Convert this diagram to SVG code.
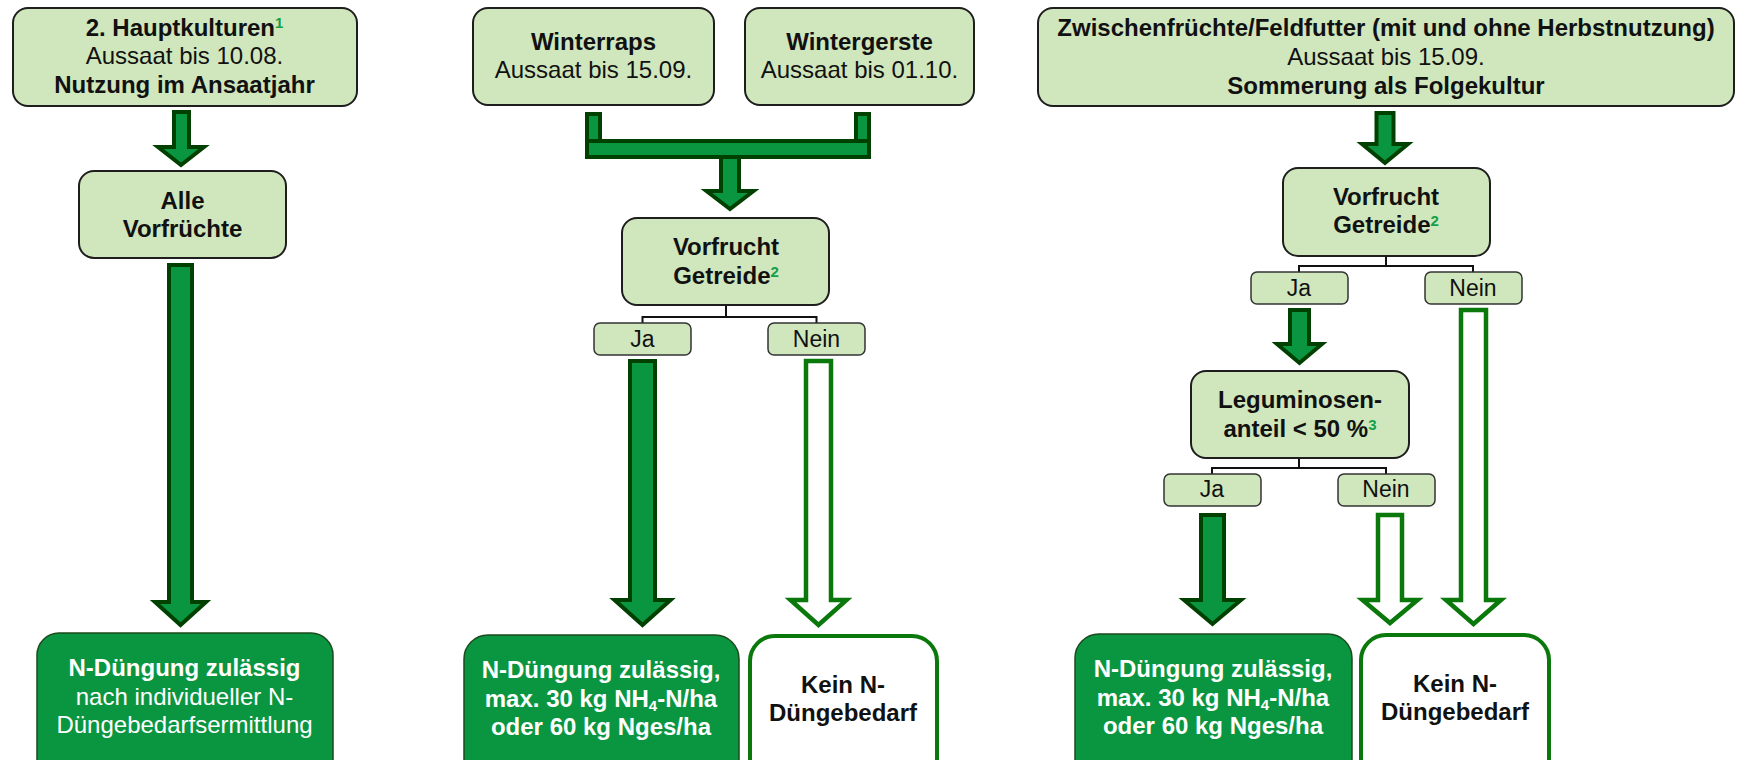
<svg xmlns="http://www.w3.org/2000/svg" width="1738" height="760" viewBox="0 0 1738 760">
<style>
.lb{fill:#d0e6bc;stroke:#1e1e1e;stroke-width:2}
.sb{fill:#d0e6bc;stroke:#333;stroke-width:1.5}
.gb{fill:#0a9640;stroke:#1d4a1d;stroke-width:1.5}
.wb{fill:#fff;stroke:#0a780a;stroke-width:4}
.fa{fill:#0a9640;stroke:#004000;stroke-width:4}
.ha{fill:#fff;stroke:#0a780a;stroke-width:4.5}
.conn{fill:none;stroke:#111;stroke-width:2}
text{font-family:"Liberation Sans",Arial,sans-serif;font-size:24px;fill:#111;text-anchor:middle}
.b{font-weight:bold}
.w{fill:#fff}
.s{font-size:23px}
.sup{font-size:15px;fill:#12a04a;font-weight:bold}
</style>
<rect width="1738" height="760" fill="#fff"/>

<g id="connectors">
  <!-- column 1 -->
  <polygon class="fa" points="174,112 189,112 189,147 204,147 181,165 158,147 174,147"/>
  <polygon class="fa" points="169,265 192,265 192,602 206,602 180.5,625 155,602 169,602"/>
  <!-- column 2 bracket -->
  <rect class="fa" x="587" y="114" width="13" height="27"/>
  <rect class="fa" x="856" y="114" width="13" height="27"/>
  <polygon class="fa" points="721,150 739,150 739,191 753.5,191 730,209 706.5,191 721,191"/>
  <rect class="fa" x="587" y="141" width="282" height="16"/>
  <path class="conn" d="M726,306 V317 M642.5,323 V317 H816.5 V323"/>
  <polygon class="fa" points="630,361 655,361 655,600 670.5,600 642.5,625 614.5,600 630,600"/>
  <polygon class="ha" points="806,361 831,361 831,600 846.5,600 818.5,625 790.5,600 806,600"/>
  <!-- column 3 -->
  <polygon class="fa" points="1376.5,113 1393.5,113 1393.5,144 1408,144 1385,163 1362,144 1376.5,144"/>
  <path class="conn" d="M1386,256 V266 M1299,272 V266 H1473 V272"/>
  <polygon class="fa" points="1290,310 1309,310 1309,344 1322,344 1299.5,363 1277,344 1290,344"/>
  <polygon class="ha" points="1461,310 1486,310 1486,600 1501,600 1473.5,624 1446,600 1461,600"/>
  <path class="conn" d="M1299,458 V468 M1212,474 V468 H1386 V474"/>
  <polygon class="fa" points="1201,515 1224,515 1224,600 1241,600 1212.5,624 1184,600 1201,600"/>
  <polygon class="ha" points="1378,515 1402,515 1402,600 1417.5,600 1390,623 1362.5,600 1378,600"/>
</g>

<g id="n-hauptkulturen">
  <rect class="lb" x="13" y="8" width="344" height="98" rx="15"/>
  <text class="b" x="184.5" y="36">2. Hauptkulturen<tspan class="sup" dy="-8">1</tspan></text>
  <text x="184.5" y="64">Aussaat bis 10.08.</text>
  <text class="b" x="184.5" y="93">Nutzung im Ansaatjahr</text>
</g>
<g id="n-alle">
  <rect class="lb" x="79" y="171" width="207" height="87" rx="15"/>
  <text class="b" x="182.5" y="209">Alle</text>
  <text class="b" x="182.5" y="237">Vorfrüchte</text>
</g>
<g id="n-result1">
  <rect class="gb" x="37" y="633" width="296" height="150" rx="22"/>
  <text class="b w" x="184.5" y="676">N-Düngung zulässig</text>
  <text class="w" x="184.5" y="705">nach individueller N-</text>
  <text class="w" x="184.5" y="733">Düngebedarfsermittlung</text>
</g>

<g id="n-winterraps">
  <rect class="lb" x="473" y="8" width="241" height="97" rx="15"/>
  <text class="b" x="593.5" y="50">Winterraps</text>
  <text x="593.5" y="78">Aussaat bis 15.09.</text>
</g>
<g id="n-wintergerste">
  <rect class="lb" x="745" y="8" width="229" height="97" rx="15"/>
  <text class="b" x="859.5" y="50">Wintergerste</text>
  <text x="859.5" y="78">Aussaat bis 01.10.</text>
</g>
<g id="n-vorfrucht2">
  <rect class="lb" x="622" y="218" width="207" height="87" rx="15"/>
  <text class="b" x="726" y="255">Vorfrucht</text>
  <text class="b" x="726" y="284">Getreide<tspan class="sup" dy="-7">2</tspan></text>
</g>
<g id="n-ja2">
  <rect class="sb" x="594" y="323" width="97" height="32" rx="6"/>
  <text class="s" x="642.5" y="347">Ja</text>
</g>
<g id="n-nein2">
  <rect class="sb" x="768" y="323" width="97" height="32" rx="6"/>
  <text class="s" x="816.5" y="347">Nein</text>
</g>
<g id="n-result2">
  <rect class="gb" x="464" y="635" width="275" height="150" rx="24"/>
  <text class="b w" x="601" y="678">N-Düngung zulässig,</text>
  <text class="b w" x="601" y="707">max. 30 kg NH<tspan font-size="15" dy="4">4</tspan><tspan dy="-4">-N/ha</tspan></text>
  <text class="b w" x="601" y="735">oder 60 kg Nges/ha</text>
</g>
<g id="n-kein2">
  <rect class="wb" x="750" y="636" width="187" height="150" rx="25"/>
  <text class="b" x="843" y="693">Kein N-</text>
  <text class="b" x="843" y="721">Düngebedarf</text>
</g>

<g id="n-zwischenfruechte">
  <rect class="lb" x="1038" y="8" width="696" height="98" rx="15"/>
  <text class="b" x="1386" y="36">Zwischenfrüchte/Feldfutter (mit und ohne Herbstnutzung)</text>
  <text x="1386" y="65">Aussaat bis 15.09.</text>
  <text class="b" x="1386" y="94">Sommerung als Folgekultur</text>
</g>
<g id="n-vorfrucht3">
  <rect class="lb" x="1283" y="168" width="207" height="88" rx="15"/>
  <text class="b" x="1386" y="205">Vorfrucht</text>
  <text class="b" x="1386" y="233">Getreide<tspan class="sup" dy="-7">2</tspan></text>
</g>
<g id="n-ja3">
  <rect class="sb" x="1251" y="272" width="97" height="32" rx="6"/>
  <text class="s" x="1299" y="296">Ja</text>
</g>
<g id="n-nein3">
  <rect class="sb" x="1425" y="272" width="97" height="32" rx="6"/>
  <text class="s" x="1473" y="296">Nein</text>
</g>
<g id="n-leguminosen">
  <rect class="lb" x="1191" y="371" width="218" height="87" rx="15"/>
  <text class="b" x="1300" y="408">Leguminosen-</text>
  <text class="b" x="1300" y="437">anteil &lt; 50 %<tspan class="sup" dy="-7">3</tspan></text>
</g>
<g id="n-ja4">
  <rect class="sb" x="1164" y="474" width="97" height="32" rx="6"/>
  <text class="s" x="1212" y="497">Ja</text>
</g>
<g id="n-nein4">
  <rect class="sb" x="1338" y="474" width="97" height="32" rx="6"/>
  <text class="s" x="1386" y="497">Nein</text>
</g>
<g id="n-result3">
  <rect class="gb" x="1075" y="634" width="277" height="150" rx="24"/>
  <text class="b w" x="1213" y="677">N-Düngung zulässig,</text>
  <text class="b w" x="1213" y="706">max. 30 kg NH<tspan font-size="15" dy="4">4</tspan><tspan dy="-4">-N/ha</tspan></text>
  <text class="b w" x="1213" y="734">oder 60 kg Nges/ha</text>
</g>
<g id="n-kein3">
  <rect class="wb" x="1361" y="635" width="188" height="150" rx="25"/>
  <text class="b" x="1455" y="692">Kein N-</text>
  <text class="b" x="1455" y="720">Düngebedarf</text>
</g>
</svg>
